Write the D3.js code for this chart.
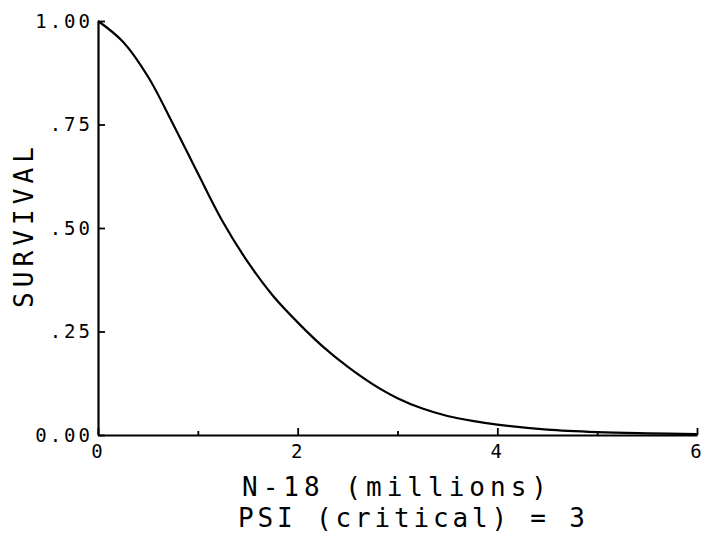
<!DOCTYPE html>
<html>
<head>
<meta charset="utf-8">
<script src="https://cdn.jsdelivr.net/npm/d3@7/dist/d3.min.js"></script>
<style>
  html, body { margin: 0; padding: 0; background: #fff; }
  svg { display: block; }
  text { font-family: "DejaVu Sans Mono", "Liberation Mono", monospace; fill: #000; }
</style>
</head>
<body>
<svg id="chart" width="709" height="541"></svg>
<script>
// Survival curve against N-18 (millions)
const nValues = [0, 0.25, 0.5, 0.75, 1.0, 1.25, 1.5, 1.75, 2.0, 2.25, 2.5, 2.75,
                 3.0, 3.25, 3.5, 3.75, 4.0, 4.5, 5.0, 5.5, 6.0];
const survival = [1.000, 0.950, 0.866, 0.752, 0.632, 0.515, 0.418, 0.337, 0.272,
                  0.214, 0.165, 0.123, 0.089, 0.064, 0.046, 0.034, 0.025, 0.013,
                  0.007, 0.004, 0.002];

const xTicks = [0, 1, 2, 3, 4, 5, 6];
const xTickLabels = ["0", "", "2", "", "4", "", "6"];
const yTicks = [0, 0.25, 0.5, 0.75, 1.0];
const yTickLabels = ["0.00", ".25", ".50", ".75", "1.00"];

const xTitle = "N-18 (millions)";
const subTitle = "PSI (critical) = 3";
const yTitle = "SURVIVAL";

const svg = d3.select("#chart");

const x = d3.scaleLinear().domain([0, 6]).range([98, 697]);
const y = d3.scaleLinear().domain([0, 1]).range([435, 21]);

// x axis: ticks point up into the plot, even values longer
const xAxis = svg.append("g")
  .attr("transform", `translate(0,${y(0)})`)
  .call(d3.axisBottom(x)
    .tickValues(xTicks)
    .tickSizeInner(-7)
    .tickSizeOuter(0)
    .tickPadding(10)
    .tickFormat((d, i) => xTickLabels[i]));

xAxis.selectAll(".tick line")
  .attr("y2", (d, i) => (i % 2 === 1 ? -4 : -7));

// y axis: ticks point right into the plot
const yAxis = svg.append("g")
  .attr("transform", `translate(${x(0)},0)`)
  .call(d3.axisLeft(y)
    .tickValues(yTicks)
    .tickSizeInner(-7)
    .tickSizeOuter(0)
    .tickPadding(5)
    .tickFormat((d, i) => yTickLabels[i]));

[xAxis, yAxis].forEach(g => {
  g.select(".domain").attr("stroke", "#000").attr("stroke-width", 2.2);
  g.selectAll(".tick line").attr("stroke", "#000").attr("stroke-width", 1.8);
  g.selectAll(".tick text")
    .attr("font-family", "DejaVu Sans Mono")
    .attr("font-size", 19)
    .attr("letter-spacing", "3px")
    .attr("fill", "#000");
});

// curve
const line = d3.line()
  .x((d, i) => x(nValues[i]))
  .y(d => y(d))
  .curve(d3.curveCatmullRom.alpha(0.5));

svg.append("path")
  .datum(survival)
  .attr("fill", "none")
  .attr("stroke", "#000")
  .attr("stroke-width", 2.2)
  .attr("stroke-linejoin", "round")
  .attr("d", line);

// titles
svg.append("text")
  .attr("x", 242)
  .attr("y", 496)
  .attr("font-size", 26)
  .attr("textLength", 305)
  .attr("lengthAdjust", "spacing")
  .text(xTitle);

svg.append("text")
  .attr("x", 238)
  .attr("y", 527)
  .attr("font-size", 26)
  .attr("textLength", 347)
  .attr("lengthAdjust", "spacing")
  .text(subTitle);

svg.append("text")
  .attr("transform", "translate(33,227.5) rotate(-90)")
  .attr("text-anchor", "middle")
  .attr("font-size", 26)
  .attr("textLength", 161)
  .attr("lengthAdjust", "spacing")
  .text(yTitle);
</script>
</body>
</html>
